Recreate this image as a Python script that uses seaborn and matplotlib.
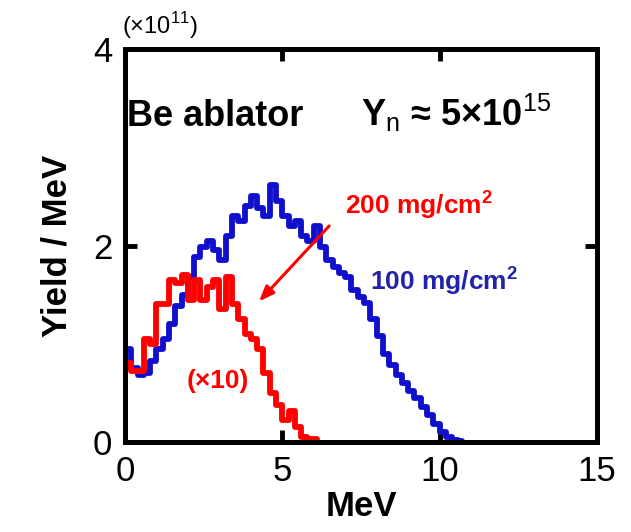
import numpy as np
import pandas as pd
import matplotlib
matplotlib.use("Agg")
import matplotlib.pyplot as plt
import seaborn as sns

# bin centres (MeV) and yields (x1e11 per MeV)
blue_mev = [0.1, 0.3, 0.5, 0.7, 0.9, 1.1, 1.3, 1.5, 1.7, 1.9, 2.1, 2.3, 2.5, 2.7, 2.9,
            3.1, 3.3, 3.5, 3.7, 3.9, 4.1, 4.3, 4.5, 4.7, 4.9, 5.1, 5.3, 5.5, 5.7, 5.9,
            6.1, 6.3, 6.5, 6.7, 6.9, 7.1, 7.3, 7.5, 7.7, 7.9, 8.1, 8.3, 8.5, 8.7, 8.9,
            9.1, 9.3, 9.5, 9.7, 9.9, 10.1, 10.3, 10.5, 10.7]
blue_yield = [0.95, 0.75, 0.68, 0.70, 0.82, 0.95, 1.05, 1.20, 1.38, 1.50, 1.68, 1.88, 1.98, 2.05, 1.95,
              1.85, 2.10, 2.30, 2.25, 2.40, 2.50, 2.38, 2.30, 2.62, 2.45, 2.30, 2.20, 2.25, 2.10, 2.05,
              2.20, 1.98, 1.85, 1.78, 1.72, 1.68, 1.55, 1.48, 1.42, 1.25, 1.08, 0.90, 0.78, 0.68, 0.60,
              0.52, 0.45, 0.36, 0.28, 0.18, 0.10, 0.05, 0.02, 0.01]

red_mev = [0.1, 0.3, 0.5, 0.7, 0.9, 1.1, 1.3, 1.5, 1.7, 1.9, 2.1, 2.3, 2.5, 2.7, 2.9,
           3.1, 3.3, 3.5, 3.7, 3.9, 4.1, 4.3, 4.5, 4.7, 4.9, 5.1, 5.3, 5.5, 5.7, 5.9, 6.1]
red_yield = [0.80, 0.72, 0.72, 1.05, 1.00, 1.40, 1.40, 1.65, 1.62, 1.70, 1.45, 1.65, 1.45, 1.58, 1.65,
             1.35, 1.68, 1.40, 1.25, 1.10, 1.05, 0.95, 0.70, 0.50, 0.38, 0.22, 0.32, 0.15, 0.05, 0.03, 0.03]

x_ticks = [0, 5, 10, 15]
y_ticks = [0, 2, 4]

sns.set_style("white")
plt.rcParams["font.family"] = ["Liberation Sans", "DejaVu Sans"]
plt.rcParams["mathtext.fontset"] = "custom"
plt.rcParams["mathtext.rm"] = "Liberation Sans"
plt.rcParams["mathtext.bf"] = "Liberation Sans:bold"
plt.rcParams["text.color"] = "black"
plt.rcParams["axes.labelcolor"] = "black"
plt.rcParams["xtick.color"] = "black"
plt.rcParams["ytick.color"] = "black"

fig = plt.figure(figsize=(6.31, 5.32), dpi=100)
ax = fig.add_axes([0.198, 0.169, 0.748, 0.739])

blue = "#1010cc"
red = "#ff0000"

df_b = pd.DataFrame({"MeV": blue_mev, "Y": blue_yield})
df_r = pd.DataFrame({"MeV": red_mev, "Y": red_yield})
sns.lineplot(data=df_b, x="MeV", y="Y", ax=ax, color=blue, lw=4.2,
             drawstyle="steps-mid", estimator=None)
sns.lineplot(data=df_r, x="MeV", y="Y", ax=ax, color=red, lw=4.2,
             drawstyle="steps-mid", estimator=None)

ax.set_xlim(0, 15)
ax.set_ylim(0, 4)
ax.set_xticks(x_ticks)
ax.set_yticks(y_ticks)
ax.set_xticklabels([str(t) for t in x_ticks])
ax.set_yticklabels([str(t) for t in y_ticks])
ax.tick_params(axis="both", direction="in", length=8.5, width=3.5, labelsize=25,
               top=True, right=True, bottom=True, left=True, pad=9, colors="black")
for s in ax.spines.values():
    s.set_linewidth(3.6)
    s.set_color("black")
ax.set_xlabel("MeV", fontsize=25, fontweight="bold", labelpad=2, color="black")
ax.set_ylabel("Yield / MeV", fontsize=25, fontweight="bold", labelpad=14, color="black")

ax.text(-0.1, 4.08, r"(×10$^{11}$)", fontsize=17, ha="left", va="bottom")
ax.text(0.05, 3.22, "Be ablator", fontsize=26, fontweight="bold", ha="left", va="baseline")
ax.text(7.5, 3.22, r"$\mathbf{Y}_{\mathrm{n}}$ ≈ 5×10$^{15}$", fontsize=26, fontweight="bold",
        ha="left", va="baseline")
ax.text(7.0, 2.32, r"200 mg/cm$^{\mathbf{2}}$", fontsize=19, fontweight="bold", color=red,
        ha="left", va="baseline")
ax.text(7.8, 1.55, r"100 mg/cm$^{\mathbf{2}}$", fontsize=19, fontweight="bold", color="#2222aa",
        ha="left", va="baseline")
ax.text(1.95, 0.55, "(×10)", fontsize=19, fontweight="bold", color=red,
        ha="left", va="baseline")
ax.annotate("", xy=(4.2, 1.41), xytext=(6.55, 2.22),
            arrowprops=dict(arrowstyle="-|>,head_length=0.9,head_width=0.35",
                            color=red, lw=2.2))

fig.savefig("out.png", dpi=100)
